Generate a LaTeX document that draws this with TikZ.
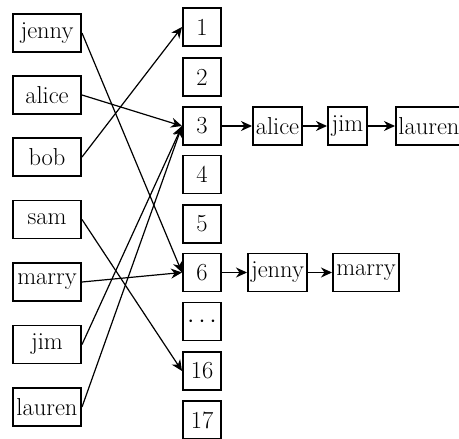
\documentclass[tikz,border=0pt]{standalone}
\usetikzlibrary{arrows.meta}
\begin{document}
\begin{tikzpicture}[x=1pt,y=-1pt,
  every node/.style={font=\fontsize{24.5}{29}\selectfont},
  box/.style={draw,line width=1.2pt,minimum height=38pt,inner xsep=0.5pt,inner ysep=0pt,outer sep=1pt},
  lbox/.style={box,minimum width=68pt},
  nbox/.style={box,minimum width=38pt},
  link/.style={line width=1.2pt,-{Stealth[length=11pt,width=10pt,inset=3.5pt]}}]
\useasboundingbox (0,0) rectangle (459,439);
% left column
\node[lbox] (jenny) at (47,33) {jenny};
\node[lbox] (alice) at (47,95) {alice};
\node[lbox] (bob) at (47,157) {bob};
\node[lbox] (sam) at (47,219.5) {sam};
\node[lbox] (marry) at (47,282) {marry};
\node[lbox] (jim) at (47,344.5) {jim};
\node[lbox] (lauren) at (47,407) {lauren};
% buckets
\node[nbox] (b1) at (202,27) {1};
\node[nbox] (b2) at (202,77) {2};
\node[nbox] (b3) at (202,126) {3};
\node[nbox] (b4) at (202,174.5) {4};
\node[nbox] (b5) at (202,224) {5};
\node[nbox] (b6) at (202,272.5) {6};
\node[nbox] (bd) at (202,321.5) {$\cdots$};
\node[nbox] (b16) at (202,371) {16};
\node[nbox] (b17) at (202,420) {17};
% chains
\node[box,minimum width=49pt] (c3a) at (277.5,126) {alice};
\node[box,minimum width=39pt] (c3b) at (347.5,126) {jim};
\node[box,minimum width=66pt] (c3c) at (429,126) {lauren};
\node[box,minimum width=59pt] (c6a) at (277.5,272.5) {jenny};
\node[box,minimum width=66pt] (c6b) at (366,272.5) {marry};
% links
\draw[link] (jenny.east) -- (b6.west);
\draw[link] (alice.east) -- (b3.west);
\draw[link] (bob.east) -- (b1.west);
\draw[link] (sam.east) -- (b16.west);
\draw[link] (marry.east) -- (b6.west);
\draw[link] (jim.east) -- (b3.west);
\draw[link] (lauren.east) -- (b3.west);
\draw[link] (b3) -- (c3a);
\draw[link] (c3a) -- (c3b);
\draw[link] (c3b) -- (c3c);
\draw[link] (b6) -- (c6a);
\draw[link] (c6a) -- (c6b);
\end{tikzpicture}
\end{document}
